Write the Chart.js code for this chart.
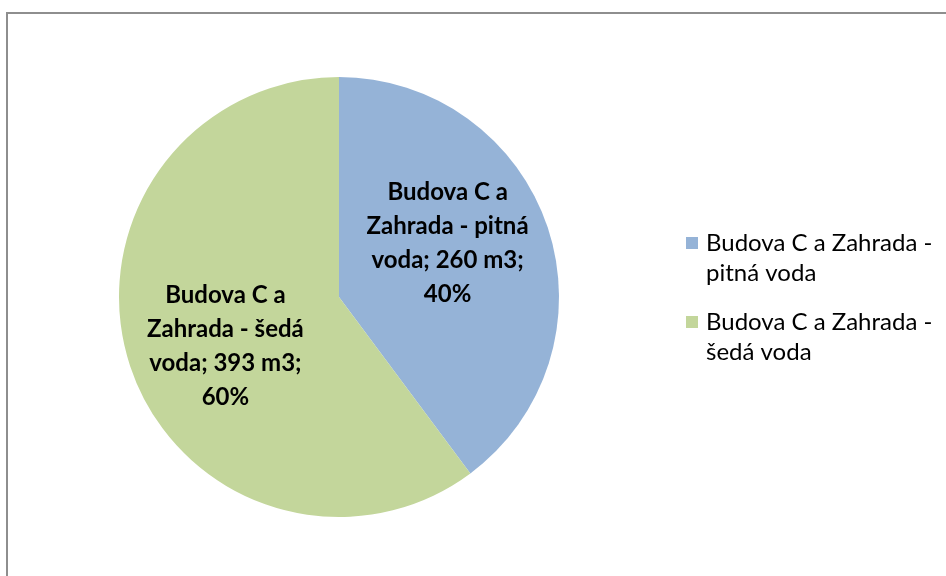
<!DOCTYPE html>
<html>
<head>
<meta charset="utf-8">
<title>Spotřeba vody</title>
<script src="https://cdn.jsdelivr.net/npm/chart.js@4.4.0/dist/chart.umd.min.js"></script>
<style>
  html, body { margin: 0; padding: 0; background: #fff; overflow: hidden; }
  .c-chart { position: relative; width: 946px; height: 576px; }
</style>
</head>
<body>
<div class="c-chart">
  <canvas id="myChart" width="946" height="576"></canvas>
</div>
<script>
const categories = ['Budova C a Zahrada - pitná voda', 'Budova C a Zahrada - šedá voda'];
const volumes = [260, 393];
const unit = 'm3';
const colors = ['#95B3D7', '#C3D69B'];

const fontName = 'Lato';

// splits "xxx - yyy" into two legend lines
const splitLegend = function (text) {
  const i = text.indexOf(' - ');
  if (i < 0) return [text];
  return [text.slice(0, i + 2), text.slice(i + 3)];
};

const wrapWords = function (ctx, text, maxWidth) {
  const words = text.split(' ');
  const lines = [];
  let line = '';
  words.forEach(function (w) {
    const test = line ? line + ' ' + w : w;
    if (line && ctx.measureText(test).width > maxWidth) {
      lines.push(line);
      line = w;
    } else {
      line = test;
    }
  });
  if (line) lines.push(line);
  return lines;
};

// frame around the whole chart
const frame = {
  id: 'frame',
  beforeDraw(chart) {
    const { ctx } = chart;
    ctx.save();
    ctx.strokeStyle = '#8E8E8E';
    ctx.lineWidth = 2;
    ctx.strokeRect(7, 13, 1000, 1000);
    ctx.restore();
  },
};

// slice labels: name; value m3; percent
const sliceLabels = {
  id: 'sliceLabels',
  afterDatasetsDraw(chart, args, options) {
    const { ctx } = chart;
    const meta = chart.getDatasetMeta(0);
    const data = chart.data.datasets[0].data;
    const total = data.reduce((a, b) => a + b, 0);
    ctx.save();
    ctx.font = 'bold ' + options.fontSize + 'px ' + fontName;
    ctx.fillStyle = '#000';
    ctx.textAlign = 'center';
    ctx.textBaseline = 'middle';
    meta.data.forEach(function (arc, i) {
      const mid = (arc.startAngle + arc.endAngle) / 2;
      const r = arc.outerRadius * options.ratio;
      const x = arc.x + Math.cos(mid) * r + options.dx[i];
      const y = arc.y + Math.sin(mid) * r + options.dy[i];
      const pct = Math.round((data[i] / total) * 100);
      const text = chart.data.labels[i] + '; ' + data[i] + ' ' + unit + '; ' + pct + '%';
      const lines = wrapWords(ctx, text, options.maxWidth);
      const top = y - ((lines.length - 1) * options.lineHeight) / 2;
      lines.forEach(function (l, j) {
        ctx.fillText(l, x, top + j * options.lineHeight);
      });
    });
    ctx.restore();
  },
};

// legend on the right, wrapped in two lines
const sideLegend = {
  id: 'sideLegend',
  afterDraw(chart, args, options) {
    const { ctx } = chart;
    ctx.save();
    ctx.font = options.fontSize + 'px ' + fontName;
    ctx.textBaseline = 'middle';
    let y = options.top;
    chart.data.labels.forEach(function (label, i) {
      ctx.fillStyle = chart.data.datasets[0].backgroundColor[i];
      ctx.fillRect(options.left, y - 6, 12, 12);
      ctx.fillStyle = '#000';
      splitLegend(label).forEach(function (l, j) {
        ctx.fillText(l, options.left + 20, y + j * options.lineHeight);
      });
      y += options.gap;
    });
    ctx.restore();
  },
};

const makeChart = function () {
  const data = {
    labels: categories,
    datasets: [
      {
        data: volumes,
        backgroundColor: colors,
        borderWidth: 0,
      },
    ],
  };

  const config = {
    type: 'pie',
    data,
    options: {
      responsive: false,
      animation: false,
      devicePixelRatio: 1,
      layout: {
        padding: { left: 119, right: 387, top: 77, bottom: 59 },
      },
      plugins: {
        legend: { display: false },
        tooltip: { enabled: false },
        sliceLabels: {
          fontSize: 24,
          lineHeight: 34,
          ratio: 0.52,
          maxWidth: 182,
          dx: [0, -5],
          dy: [-18, 13],
        },
        sideLegend: {
          left: 686,
          top: 243,
          fontSize: 24,
          lineHeight: 30,
          gap: 79,
        },
      },
    },
    plugins: [frame, sliceLabels, sideLegend],
  };

  new Chart(document.getElementById('myChart'), config);
};

const init = function () {
  makeChart();
};
document.addEventListener('DOMContentLoaded', init);
</script>
</body>
</html>
